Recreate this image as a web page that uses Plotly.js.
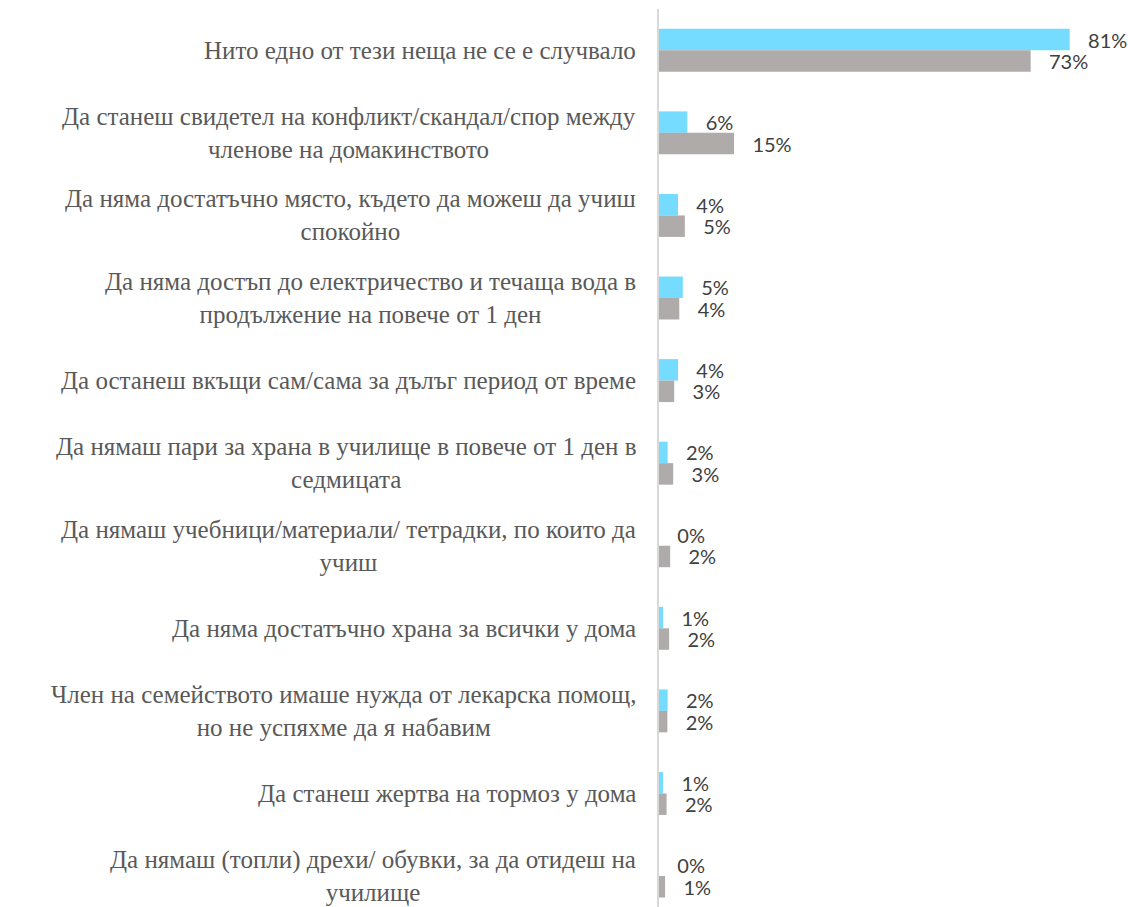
<!DOCTYPE html>
<html>
<head>
<meta charset="utf-8">
<script src="https://cdn.plot.ly/plotly-3.0.1.min.js"></script>
<style>
html,body{margin:0;padding:0;background:#fff;}
#chart{width:1128px;height:907px;}
</style>
</head>
<body>
<div id="chart"></div>
<script>
const categories = [
  "Нито едно от тези неща не се е случвало",
  "Да станеш свидетел на конфликт/скандал/спор между<br>членове на домакинството",
  "Да няма достатъчно място, където да можеш да учиш<br>спокойно",
  "Да няма достъп до електричество и течаща вода в<br>продължение на повече от 1 ден",
  "Да останеш вкъщи сам/сама за дълъг период от време",
  "Да нямаш пари за храна в училище в повече от 1 ден в<br>седмицата",
  "Да нямаш учебници/материали/ тетрадки, по които да<br>учиш",
  "Да няма достатъчно храна за всички у дома",
  "Член на семейството имаше нужда от лекарска помощ,<br>но не успяхме да я набавим",
  "Да станеш жертва на тормоз у дома",
  "Да нямаш (топли) дрехи/ обувки, за да отидеш на<br>училище"
];
const seriesCyan = [81, 5.6, 3.75, 4.7, 3.75, 1.7, 0, 0.8, 1.7, 0.8, 0];
const seriesGrey = [73.3, 14.8, 5.1, 4.0, 3.0, 2.8, 2.2, 2.0, 1.65, 1.5, 1.2];
const labelsCyan = seriesCyan.map(v => Math.round(v) + "%");
const labelsGrey = seriesGrey.map(v => Math.round(v) + "%");

const pad = "\u00a0\u00a0\u00a0";
function trace(vals, labels, color) {
  return {
    type: "bar", orientation: "h",
    y: categories, x: vals,
    text: labels.map(t => pad + t),
    textposition: "outside",
    constraintext: "none",
    cliponaxis: false,
    textfont: {family: "Lato", size: 20, color: "#404040"},
    marker: {color: color},
    hoverinfo: "none"
  };
}
const data = [trace(seriesCyan, labelsCyan, "#75DBFF"), trace(seriesGrey, labelsGrey, "#AFABAB")];

const annotations = categories.map(c => ({
  text: c, x: 0, xref: "paper", xshift: -21, xanchor: "right",
  y: c, yref: "y", yanchor: "middle", align: "center", showarrow: false,
  font: {family: "Liberation Serif", size: 25, color: "#595959"}
}));

const layout = {
  width: 1128, height: 907,
  margin: {l: 659, r: 0, t: 9, b: 0, pad: 0},
  paper_bgcolor: "#fff", plot_bgcolor: "#fff",
  barmode: "group", bargap: 0.48, bargroupgap: 0,
  showlegend: false,
  annotations: annotations,
  xaxis: {range: [0, 92.5], showgrid: false, zeroline: false, showticklabels: false, showline: false, fixedrange: true},
  yaxis: {
    type: "category", categoryarray: categories, range: [10.375, -0.5],
    showgrid: false, zeroline: false, showline: true, linecolor: "#D9D9D9", linewidth: 2,
    ticks: "", showticklabels: false
  }
};
Plotly.newPlot("chart", data, layout, {displayModeBar: false, staticPlot: true});
</script>
</body>
</html>
